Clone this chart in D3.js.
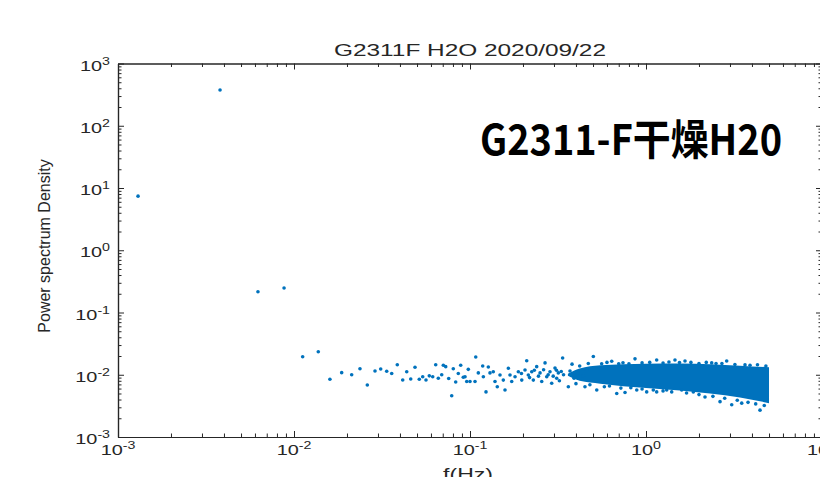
<!DOCTYPE html>
<html>
<head>
<meta charset="utf-8">
<script src="https://cdn.jsdelivr.net/npm/d3@7"></script>
<style>
  body { margin: 0; background: #fff; }
  svg { display: block; }
</style>
</head>
<body>
<div id="chart"></div>
<script>
// PSD points [f (Hz), power spectrum density]
var psdPoints = [
  [0.0013, 7.4], [0.0038, 375], [0.00624, 0.216], [0.00878, 0.247], [0.0112, 0.0195], [0.01374, 0.0234],
  [0.0160, 0.00845], [0.01866, 0.0108], [0.02127, 0.0100], [0.02371, 0.0125], [0.02609, 0.00684],
  [0.02886, 0.01149], [0.03109, 0.01237], [0.03363, 0.0114], [0.0359, 0.0105], [0.03863, 0.0145],
  [0.04147, 0.00824], [0.0437, 0.0112], [0.04605, 0.00855], [0.0487, 0.0132], [0.05151, 0.00845],
  [0.05386, 0.0093], [0.05623, 0.00824], [0.05872, 0.0096], [0.0614, 0.0093], [0.06385, 0.0145],
  [0.06606, 0.0088], [0.06907, 0.0100], [0.07053, 0.0142], [0.07278, 0.0135], [0.07568, 0.0087],
  [0.07871, 0.0046], [0.08037, 0.0125], [0.08294, 0.00765], [0.0858, 0.0105], [0.08854, 0.0142],
  [0.0916, 0.0091], [0.0937, 0.0093], [0.0958, 0.0078], [0.0978, 0.0122], [0.1, 0.0078],
  [0.1068, 0.0078], [0.1078, 0.0193], [0.1115, 0.0107], [0.1181, 0.0138], [0.1191, 0.0093],
  [0.1233, 0.0053], [0.1271, 0.0133], [0.1299, 0.0107], [0.1356, 0.0112], [0.1387, 0.0078],
  [0.1429, 0.0064], [0.1481, 0.0099], [0.1546, 0.0082], [0.1581, 0.0057], [0.1651, 0.0127],
  [0.1688, 0.0099], [0.1726, 0.0078], [0.1803, 0.0093], [0.1882, 0.0112], [0.1968, 0.0082],
  [0.196, 0.0105], [0.2054, 0.0119], [0.21, 0.0168], [0.2145, 0.0099], [0.218, 0.0090],
  [0.2243, 0.0112], [0.229, 0.0082], [0.232, 0.0118], [0.2393, 0.0135], [0.245, 0.0095],
  [0.25, 0.0107], [0.2556, 0.0078], [0.262, 0.0120], [0.2669, 0.0155], [0.2729, 0.0093],
  [0.278, 0.0100], [0.2848, 0.0112], [0.2912, 0.0073], [0.297, 0.0095], [0.3041, 0.0128],
  [0.31, 0.0118], [0.3109, 0.0088], [0.3175, 0.0107], [0.322, 0.0080], [0.33, 0.0113],
  [0.34, 0.0100], [0.37, 0.0115], [0.39, 0.0088], [0.41, 0.0108], [0.44, 0.0095], [0.46, 0.0120],
  [0.336, 0.0186], [0.362, 0.0064], [0.45, 0.0064], [0.502, 0.0196], [0.525, 0.0057],
  [0.6385, 0.0165], [0.682, 0.0050], [0.76, 0.0052], [0.866, 0.0180], [0.886, 0.0057],
  [1.009, 0.0053], [1.15, 0.0053], [1.15, 0.0173], [1.311, 0.0057], [1.461, 0.0173],
  [1.595, 0.0057], [1.666, 0.0166], [1.857, 0.0053], [2.164, 0.0044], [2.362, 0.0155],
  [2.634, 0.0037], [2.874, 0.0166], [3.069, 0.0033], [3.498, 0.0035], [3.652, 0.0144],
  [4.444, 0.0027],
  // ragged upper edge of the cloud
  [0.38, 0.0148], [0.42, 0.0138], [0.47, 0.0152], [0.56, 0.0150], [0.6, 0.0158], [0.7, 0.0150],
  [0.74, 0.0156], [0.8, 0.0150], [0.95, 0.0155], [1.05, 0.0158], [1.25, 0.0154], [1.35, 0.0160],
  [1.55, 0.0157], [1.8, 0.0158], [2.0, 0.0152], [2.2, 0.0158], [2.5, 0.0152], [2.7, 0.0152],
  [3.2, 0.0146], [3.9, 0.0142], [4.3, 0.0145], [4.8, 0.0138],
  // ragged lower edge of the cloud
  [0.4, 0.0072], [0.48, 0.0069], [0.58, 0.0064], [0.62, 0.0066], [0.72, 0.0061], [0.82, 0.0062],
  [0.95, 0.0059], [1.1, 0.0057], [1.25, 0.0055], [1.4, 0.0053], [1.7, 0.0051], [2.0, 0.0048],
  [2.4, 0.0045], [2.8, 0.0042], [3.3, 0.0039], [3.8, 0.0036], [4.2, 0.0034], [4.7, 0.0032]
];

// saturated part of the cloud: upper and lower edge
var bandFreq = [0.36, 0.42, 0.55, 1.0, 1.56, 2.31, 3.42, 5.0];
var bandHigh = [0.0104, 0.0126, 0.0142, 0.0150, 0.0152, 0.0148, 0.0140, 0.0132];
var bandLow  = [0.0096, 0.0080, 0.0072, 0.0061, 0.0056, 0.0050, 0.0043, 0.0035];

var xDecades = [-3, -2, -1, 0, 1];
var yDecades = [-3, -2, -1, 0, 1, 2, 3];

var titleText = "G2311F H2O 2020/09/22";
var xLabelText = "f(Hz)";
var yLabelText = "Power spectrum Density";
var noteText = "G2311-F干燥H20";

var width = 820, height = 477;
var margin = {top: 63.5, left: 118, right: 822, bottom: 437};
var axisColor = "#262626";
var dotColor = "#0072BD";
var font = "'Liberation Sans', Arial, Helvetica, sans-serif";
var stretch = 1.42;   // tick labels in the picture are drawn wide

var svg = d3.select("#chart").append("svg")
  .attr("width", width)
  .attr("height", height)
  .style("overflow", "hidden");

var x = d3.scaleLog().domain([1e-3, 1e1]).range([margin.left, margin.right]);
var y = d3.scaleLog().domain([1e-3, 1e3]).range([margin.bottom, margin.top]);

// minor tick values 2..9 inside every decade
function minors(decades) {
  var out = [];
  for (var i = 0; i < decades.length - 1; i++) {
    for (var k = 2; k <= 9; k++) out.push(k * Math.pow(10, decades[i]));
  }
  return out;
}
var xMajor = xDecades.map(function(d) { return Math.pow(10, d); });
var yMajor = yDecades.map(function(d) { return Math.pow(10, d); });

// the band of dense points
var band = bandFreq.map(function(f, i) { return {f: f, hi: bandHigh[i], lo: bandLow[i]}; });
svg.append("path")
  .datum(band)
  .attr("fill", dotColor)
  .attr("d", d3.area()
    .curve(d3.curveMonotoneX)
    .x(function(d) { return x(d.f); })
    .y0(function(d) { return y(d.lo); })
    .y1(function(d) { return y(d.hi); }));

// single points
svg.selectAll("circle.pt")
  .data(psdPoints)
  .enter()
  .append("circle")
  .attr("class", "pt")
  .attr("cx", function(d) { return x(d[0]); })
  .attr("cy", function(d) { return y(d[1]); })
  .attr("r", 1.8)
  .attr("fill", dotColor);

// box axes, ticks pointing inwards
function styleAxis(g) {
  g.selectAll("path, line").attr("stroke", axisColor);
  g.select(".domain").attr("stroke-width", 1.2);
  g.selectAll("text").remove();
}
var tickMaj = 6, tickMin = 3.5;

svg.append("g").attr("transform", "translate(0," + margin.bottom + ")")
  .call(d3.axisBottom(x).tickValues(xMajor).tickSize(-tickMaj).tickSizeOuter(0)).call(styleAxis);
svg.append("g").attr("transform", "translate(0," + margin.bottom + ")")
  .call(d3.axisBottom(x).tickValues(minors(xDecades)).tickSize(-tickMin).tickSizeOuter(0)).call(styleAxis);
svg.append("g").attr("transform", "translate(0," + margin.top + ")")
  .call(d3.axisTop(x).tickValues(xMajor).tickSize(-tickMaj).tickSizeOuter(0)).call(styleAxis);
svg.append("g").attr("transform", "translate(0," + margin.top + ")")
  .call(d3.axisTop(x).tickValues(minors(xDecades)).tickSize(-tickMin).tickSizeOuter(0)).call(styleAxis);
svg.append("g").attr("transform", "translate(" + margin.left + ",0)")
  .call(d3.axisLeft(y).tickValues(yMajor).tickSize(-tickMaj).tickSizeOuter(0)).call(styleAxis);
svg.append("g").attr("transform", "translate(" + margin.left + ",0)")
  .call(d3.axisLeft(y).tickValues(minors(yDecades)).tickSize(-tickMin).tickSizeOuter(0)).call(styleAxis);
svg.append("g").attr("transform", "translate(" + margin.right + ",0)")
  .call(d3.axisRight(y).tickValues(yMajor).tickSize(-tickMaj).tickSizeOuter(0)).call(styleAxis);
svg.append("g").attr("transform", "translate(" + margin.right + ",0)")
  .call(d3.axisRight(y).tickValues(minors(yDecades)).tickSize(-tickMin).tickSizeOuter(0)).call(styleAxis);

// "10^n" tick labels
function powerLabel(px, py, exp, anchor) {
  var t = svg.append("text")
    .attr("transform", "translate(" + px + "," + py + ") scale(" + stretch + ",1)")
    .attr("text-anchor", anchor)
    .attr("font-family", font)
    .attr("font-size", 14)
    .attr("fill", axisColor);
  t.append("tspan").text("10");
  t.append("tspan").attr("dy", -6).attr("font-size", 10).text(exp);
}
xDecades.forEach(function(d) { powerLabel(x(Math.pow(10, d)), 455, d, "middle"); });
yDecades.forEach(function(d) { powerLabel(110, y(Math.pow(10, d)) + 7, d, "end"); });

// title and axis labels
svg.append("text")
  .attr("x", 470).attr("y", 56)
  .attr("text-anchor", "middle")
  .attr("font-family", font).attr("font-size", 16)
  .attr("textLength", 272).attr("lengthAdjust", "spacingAndGlyphs")
  .attr("fill", axisColor)
  .text(titleText);

svg.append("text")
  .attr("transform", "translate(468,480) scale(1.44,1)")
  .attr("text-anchor", "middle")
  .attr("font-family", font).attr("font-size", 16)
  .attr("fill", axisColor)
  .text(xLabelText);

svg.append("text")
  .attr("transform", "translate(50,246) rotate(-90)")
  .attr("text-anchor", "middle")
  .attr("font-family", font).attr("font-size", 16)
  .attr("fill", axisColor)
  .text(yLabelText);

// big annotation pasted on the plot
svg.append("text")
  .attr("x", 480).attr("y", 155)
  .attr("font-family", "'Noto Sans CJK SC', sans-serif")
  .attr("font-weight", "bold")
  .attr("font-size", 42)
  .attr("textLength", 302).attr("lengthAdjust", "spacingAndGlyphs")
  .attr("fill", "#000")
  .text(noteText);
</script>
</body>
</html>
